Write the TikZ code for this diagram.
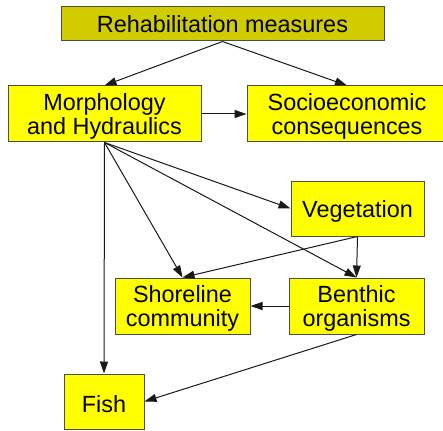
\documentclass[tikz,border=0pt]{standalone}
\usepackage{fontspec}
\setmainfont{Liberation Sans}
\usetikzlibrary{arrows.meta}
\definecolor{boxyellow}{RGB}{255,255,0}
\definecolor{topyellow}{RGB}{208,204,0}
\newcommand{\lift}{\rule{0pt}{22pt}}
\begin{document}
\begin{tikzpicture}[x=1pt, y=-1pt, line width=1pt,
   box/.style = {draw=black!70, fill=boxyellow, inner sep=0pt, align=center,
                 font=\fontsize{23.4}{23.4}\selectfont},
   link/.style = {-{Triangle[length=12pt,width=8pt]}, black!90}]
   \useasboundingbox (0,0) rectangle (443,430);
   \node[box, fill=topyellow, minimum width=323pt, minimum height=34pt] (rehab) at (222.5,24) {Rehabilitation measures};
   \node[box, minimum width=193pt, minimum height=56pt] (morph) at (104.5,114) {\lift Morphology\\and Hydraulics};
   \node[box, minimum width=200pt, minimum height=56pt] (socio) at (347,114) {\lift Socioeconomic\\consequences};
   \node[box, minimum width=133pt, minimum height=55pt] (veg) at (357.5,208.5) {\lift Vegetation};
   \node[box, minimum width=135pt, minimum height=56pt] (shore) at (182.5,306) {\lift Shoreline\\community};
   \node[box, minimum width=135pt, minimum height=56pt] (benth) at (356.5,306) {\lift Benthic\\organisms};
   \node[box, minimum width=80pt, minimum height=55pt] (fish) at (104,401.5) {\lift Fish};
   % top level
   \draw[link] (rehab.south) -- (morph.north);
   \draw[link] (rehab.south) -- (socio.north);
   \draw[link] (morph.east) -- (socio.west);
   % from morphology
   \draw[link] (morph.south) -- (fish.north);
   \draw[link] (morph.south) -- (shore.north);
   \draw[link] (morph.south) -- (veg.west);
   \draw[link] (morph.south) -- (benth.north);
   % lower level
   \draw[link] (veg.south) -- (benth.north);
   \draw[link] (veg.south) -- (shore.north);
   \draw[link] (benth.west) -- (shore.east);
   \draw[link] (benth.south) -- (fish.east);
\end{tikzpicture}
\end{document}
